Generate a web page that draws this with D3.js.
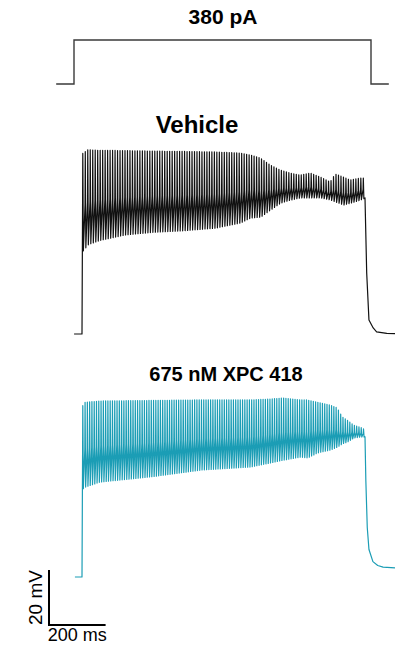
<!DOCTYPE html>
<html>
<head>
<meta charset="utf-8">
<script src="https://cdn.jsdelivr.net/npm/d3@7"></script>
<style>
  html, body { margin: 0; padding: 0; background: #fff; }
  svg { display: block; font-family: "Liberation Sans", Arial, sans-serif; }
</style>
</head>
<body>
<div id="chart"></div>
<script>
const WIDTH = 395, HEIGHT = 645;

// current step (ms, pA)
var stepTimes = [-60, 0, 0, 1000, 1000, 1060];
var stepLevels = [0, 0, 380, 380, 0, 0];

// Vehicle: spike envelope (ms, mV)
var vehTimes  = [0, 20, 60, 150, 250, 350, 470, 558, 594, 629, 664, 700, 735, 770, 806, 841, 876, 894, 922, 947, 982, 1000];
var vehTop    = [-4.5, -3, -3.2, -3.3, -3.5, -3.6, -3.8, -4.2, -4.9, -6.0, -8.5, -10.4, -11.5, -12.2, -11.5, -12.9, -14.7, -11.8, -12.9, -14, -13.3, -13.3];
var vehBottom = [-40, -37.5, -36, -34, -33, -32.5, -31.5, -29.6, -27.8, -27.5, -24.9, -22.4, -21.3, -20.5, -20.5, -20.5, -21.3, -22, -23.1, -22.4, -21.3, -20.5];
var vehPreT = [-28, 0], vehPreV = [-70, -70];
var vehOffT = [1000, 1006, 1014, 1029, 1041, 1077, 1106];
var vehOffV = [-20.5, -47.8, -64.9, -67.8, -69.2, -69.8, -69.9];
var vehRate = 114; // Hz

// 675 nM XPC 418
var xpcTimes  = [0, 10, 60, 240, 420, 594, 664, 710, 770, 795, 830, 876, 901, 919, 936, 958, 982, 1000];
var xpcTop    = [-8, -6.5, -6, -5.8, -5.6, -5.6, -5.3, -4.9, -5.6, -5.6, -6.4, -7.5, -8.5, -11.8, -12.9, -14.7, -15.5, -16.5];
var xpcBottom = [-38, -37.3, -35.5, -33.6, -31.1, -30.0, -28.5, -27.5, -26.4, -26.7, -24.9, -23.8, -22.7, -21.5, -20.9, -19.5, -19.1, -19.1];
var xpcPreT = [-25, 0], xpcPreV = [-70, -70];
var xpcOffT = [1000, 1003, 1008, 1014, 1028, 1045, 1064, 1106];
var xpcOffV = [-19, -35, -52, -60, -64.4, -65.8, -66.4, -66.7];
var xpcRate = 124; // Hz

var svg = d3.select('#chart').append('svg')
    .attr('width', WIDTH)
    .attr('height', HEIGHT);

// ---- current step ----
var stepX = d3.scaleLinear().domain([0, 1000]).range([74, 371]);
var stepY = d3.scaleLinear().domain([0, 380]).range([84, 40]);
var stepLine = d3.line()
    .x(function (d, i) { return stepX(stepTimes[i]); })
    .y(function (d) { return stepY(d); });

svg.append('path')
    .attr('d', stepLine(stepLevels))
    .attr('fill', 'none')
    .attr('stroke', '#3a3a3a')
    .attr('stroke-width', 1.4);

svg.append('text')
    .attr('x', 223).attr('y', 23.5)
    .attr('text-anchor', 'middle')
    .attr('font-size', 21).attr('font-weight', 'bold')
    .text('380 pA');

// ---- voltage traces ----
var xScale = d3.scaleLinear().domain([0, 1000]).range([82, 365]);

// spikes run between the envelope
var buildTrace = function (times, top, bottom, preT, preV, offT, offV, rate) {
    var topAt = d3.scaleLinear().domain(times).range(top).clamp(true);
    var botAt = d3.scaleLinear().domain(times).range(bottom).clamp(true);
    var pts = [];
    preT.forEach(function (t, i) { pts.push([t, preV[i]]); });
    var isi = 1000 / rate;
    for (var t = 2; t < 997; t += isi) {
        var lo = botAt(t), hi = topAt(t);
        if (t > 2) pts.push([t, lo + 0.45 * (hi - lo)]);
        pts.push([t + 0.8, hi]);
        pts.push([t + 2.8, lo]);
    }
    offT.forEach(function (t, i) { pts.push([t, offV[i]]); });
    return pts;
};

var drawTrace = function (pts, yScale, color) {
    var line = d3.line()
        .x(function (d) { return xScale(d[0]); })
        .y(function (d) { return yScale(d[1]); });
    svg.append('path')
        .attr('d', line(pts))
        .attr('fill', 'none')
        .attr('stroke', color)
        .attr('stroke-width', 1.2)
        .attr('stroke-linejoin', 'round');
};

var vehY = d3.scaleLinear().domain([-70, 0]).range([334, 141.5]);
var xpcY = d3.scaleLinear().domain([-70, 0]).range([577, 384.5]);

drawTrace(buildTrace(vehTimes, vehTop, vehBottom, vehPreT, vehPreV, vehOffT, vehOffV, vehRate), vehY, '#111');
drawTrace(buildTrace(xpcTimes, xpcTop, xpcBottom, xpcPreT, xpcPreV, xpcOffT, xpcOffV, xpcRate), xpcY, '#1b9db5');

svg.append('text')
    .attr('x', 197).attr('y', 133)
    .attr('text-anchor', 'middle')
    .attr('font-size', 24).attr('font-weight', 'bold')
    .text('Vehicle');

svg.append('text')
    .attr('x', 226).attr('y', 381)
    .attr('text-anchor', 'middle')
    .attr('font-size', 20).attr('font-weight', 'bold')
    .text('675 nM XPC 418');

// ---- scale bar: 20 mV, 200 ms ----
var barX0 = 49, barY0 = 625;
var barH = xpcY(-70) - xpcY(-50);
var barW = xScale(200) - xScale(0);
svg.append('path')
    .attr('d', 'M' + barX0 + ',' + (barY0 - barH) + 'V' + barY0 + 'H' + (barX0 + barW))
    .attr('fill', 'none')
    .attr('stroke', '#000')
    .attr('stroke-width', 2);

svg.append('text')
    .attr('transform', 'translate(41.5,' + (barY0 - barH / 2) + ') rotate(-90)')
    .attr('text-anchor', 'middle')
    .attr('font-size', 19)
    .text('20 mV');

svg.append('text')
    .attr('x', barX0 + barW / 2).attr('y', 641)
    .attr('text-anchor', 'middle')
    .attr('font-size', 18)
    .text('200 ms');
</script>
</body>
</html>
